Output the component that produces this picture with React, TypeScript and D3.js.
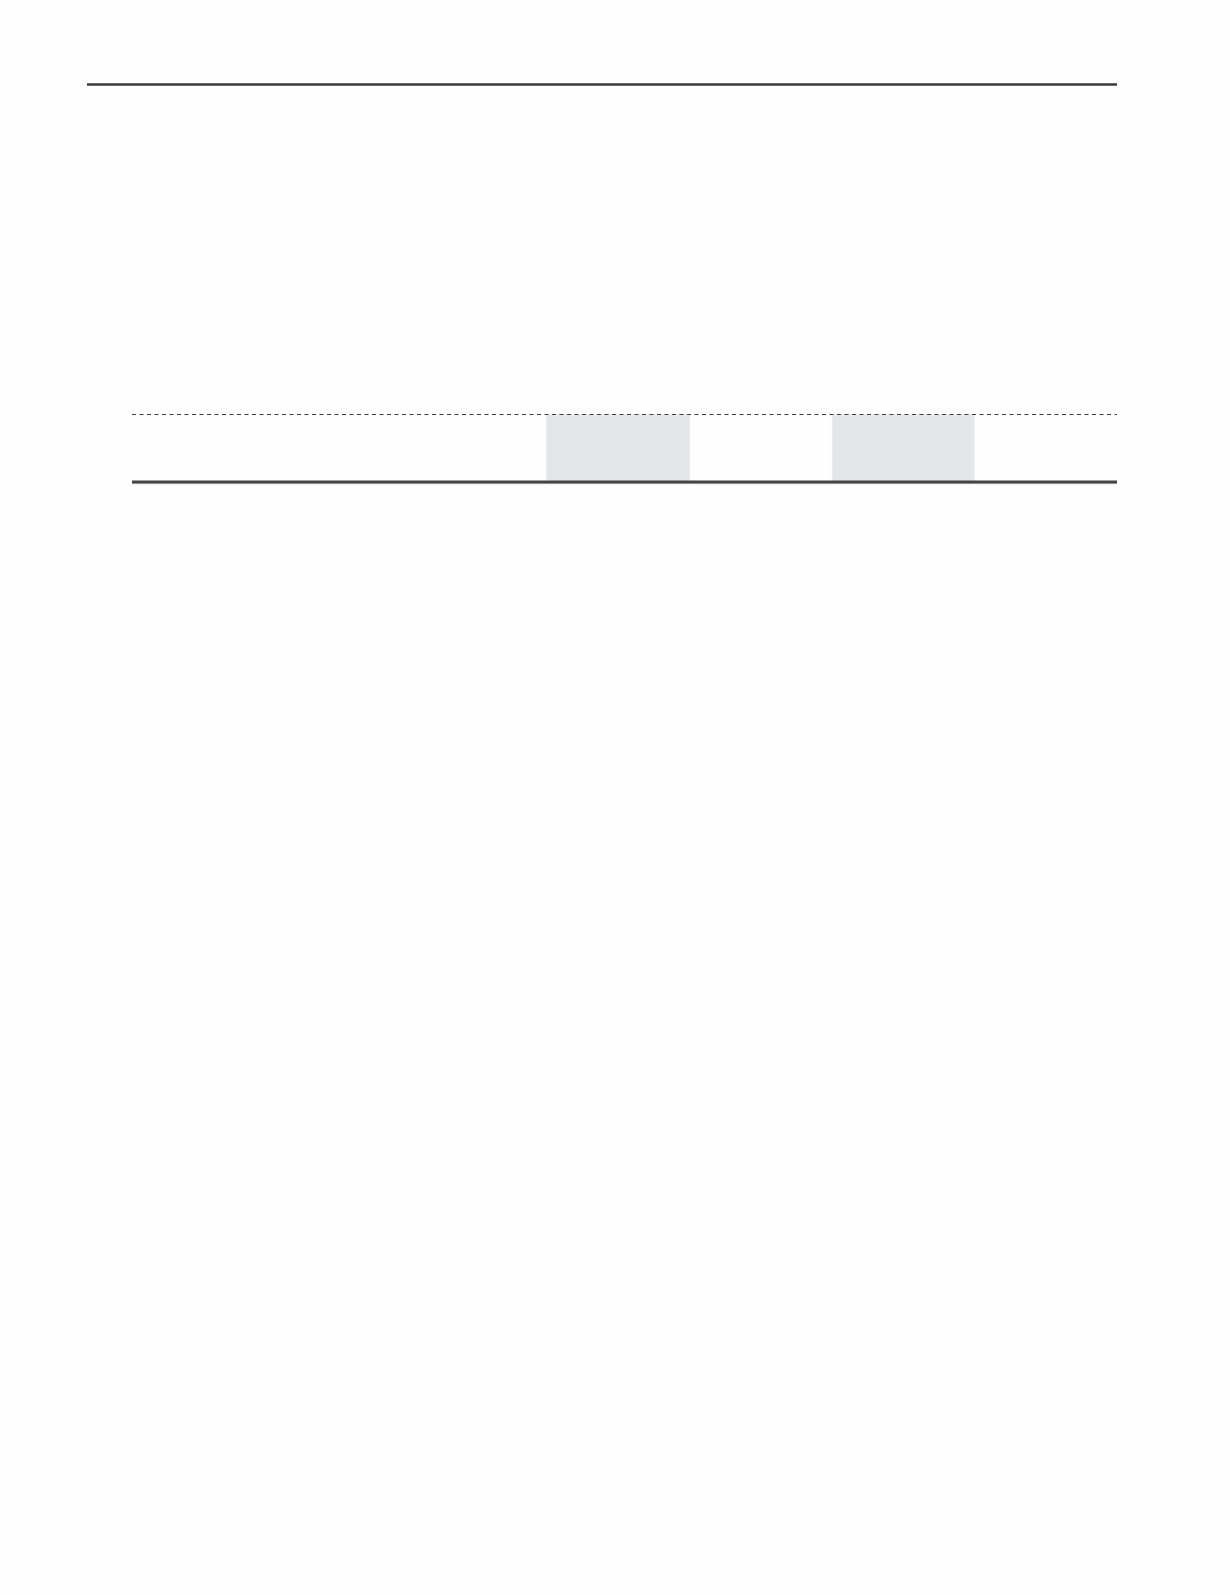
import React, { FC, useCallback, useEffect } from "react";
import * as d3 from "d3";

// shaded periods along the axis, in percent of its length
const periodStarts = [42.1, 71.1];
const periodEnds = [56.6, 85.5];
const refLevel = 1;

const width = 1230;
const height = 1595;

const App: FC = () => {
  useEffect(() => {
    document.body.style.margin = "0";
  }, []);

  const create = useCallback(() => {
    const svg = d3
      .create("svg")
      .attr("width", width)
      .attr("height", height)
      .attr("style", "display:block;background:#fefefe");

    const x = d3.scaleLinear().domain([0, 100]).range([132, 1117]);
    const y = d3.scaleLinear().domain([0, refLevel]).range([482, 414.5]);

    // title rule
    svg
      .append("line")
      .attr("x1", 87)
      .attr("x2", 1117)
      .attr("y1", 84.5)
      .attr("y2", 84.5)
      .attr("stroke", "#3a3a3a")
      .attr("stroke-width", 2.6);

    const periods = periodStarts.map((s, i) => ({ s, e: periodEnds[i] }));

    svg
      .append("g")
      .selectAll("rect")
      .data(periods)
      .join("rect")
      .attr("x", (d) => x(d.s))
      .attr("width", (d) => x(d.e) - x(d.s))
      .attr("y", y(refLevel))
      .attr("height", y(0) - y(refLevel))
      .attr("fill", "#e5e6e7")
      .attr("stroke", "#ebebeb")
      .attr("stroke-width", 1);

    // dashed reference line
    svg
      .append("line")
      .attr("x1", x(0))
      .attr("x2", x(100))
      .attr("y1", y(refLevel))
      .attr("y2", y(refLevel))
      .attr("stroke", "#3f3f3f")
      .attr("stroke-width", 1.1)
      .attr("stroke-dasharray", "4,3.5");

    // baseline
    svg
      .append("line")
      .attr("x1", x(0))
      .attr("x2", x(100))
      .attr("y1", y(0) + 1.5)
      .attr("y2", y(0) + 1.5)
      .attr("stroke", "#d6d6d6")
      .attr("stroke-width", 1.5);
    svg
      .append("line")
      .attr("x1", x(0))
      .attr("x2", x(100))
      .attr("y1", y(0))
      .attr("y2", y(0))
      .attr("stroke", "#444444")
      .attr("stroke-width", 2.8);

    return svg.node();
  }, []);

  const ref = useCallback(
    (node: HTMLDivElement | null) => {
      if (node) {
        node.innerHTML = "";
        node.append(create() as any);
      }
    },
    [create]
  );

  return <div ref={ref} />;
};

export default App;
